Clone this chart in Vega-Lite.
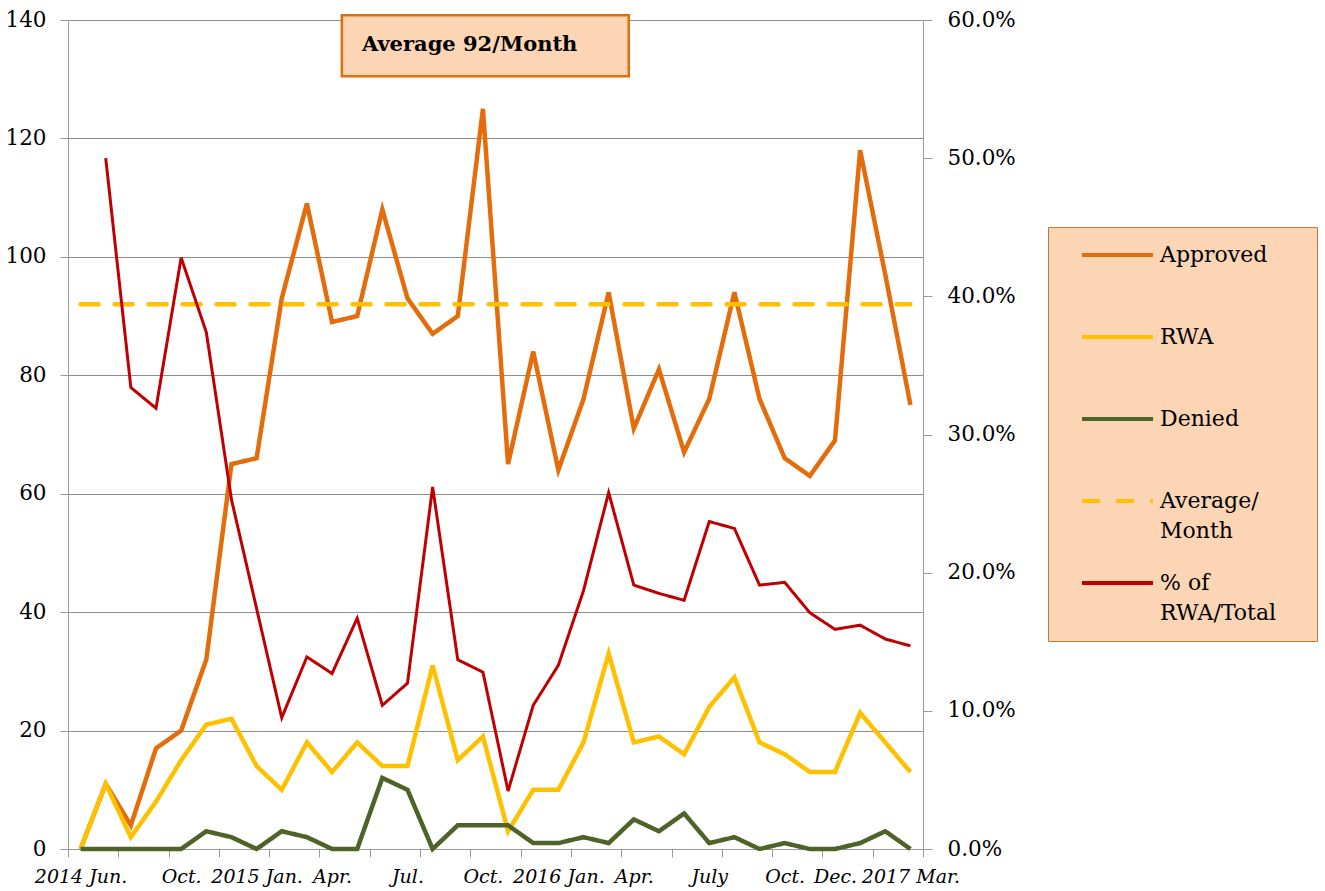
{
  "$schema": "https://vega.github.io/schema/vega-lite/v6.json",
  "width": 855,
  "height": 829,
  "autosize": {"type": "none"},
  "padding": {"left": 68, "top": 20, "right": 402, "bottom": 42},
  "background": "white",
  "config": {
    "view": {"stroke": null},
    "font": "DejaVu Serif",
    "legend": {
      "orient": "none",
      "legendX": 980,
      "legendY": 207,
      "fillColor": "#FCD5B5",
      "strokeColor": "#C8773A",
      "padding": 14,
      "symbolSize": 576,
      "symbolStrokeWidth": 4,
      "labelFont": "DejaVu Serif",
      "labelFontSize": 22,
      "labelColor": "#000000",
      "labelLimit": 400,
      "labelOffset": 70,
      "rowPadding": 24,
      "labelLineHeight": 30
    }
  },
  "datasets": {
    "monthly": [
      {"i": 0, "Approved": 0, "RWA": 0, "Denied": 0},
      {"i": 1, "Approved": 11, "RWA": 11, "Denied": 0, "% of RWA/Total": 0.5},
      {"i": 2, "Approved": 4, "RWA": 2, "Denied": 0, "% of RWA/Total": 0.334},
      {"i": 3, "Approved": 17, "RWA": 8, "Denied": 0, "% of RWA/Total": 0.319},
      {"i": 4, "Approved": 20, "RWA": 15, "Denied": 0, "% of RWA/Total": 0.428},
      {"i": 5, "Approved": 32, "RWA": 21, "Denied": 3, "% of RWA/Total": 0.374},
      {"i": 6, "Approved": 65, "RWA": 22, "Denied": 2, "% of RWA/Total": 0.253},
      {"i": 7, "Approved": 66, "RWA": 14, "Denied": 0, "% of RWA/Total": 0.174},
      {"i": 8, "Approved": 93, "RWA": 10, "Denied": 3, "% of RWA/Total": 0.095},
      {"i": 9, "Approved": 109, "RWA": 18, "Denied": 2, "% of RWA/Total": 0.139},
      {"i": 10, "Approved": 89, "RWA": 13, "Denied": 0, "% of RWA/Total": 0.127},
      {"i": 11, "Approved": 90, "RWA": 18, "Denied": 0, "% of RWA/Total": 0.167},
      {"i": 12, "Approved": 108, "RWA": 14, "Denied": 12, "% of RWA/Total": 0.104},
      {"i": 13, "Approved": 93, "RWA": 14, "Denied": 10, "% of RWA/Total": 0.12},
      {"i": 14, "Approved": 87, "RWA": 31, "Denied": 0, "% of RWA/Total": 0.262},
      {"i": 15, "Approved": 90, "RWA": 15, "Denied": 4, "% of RWA/Total": 0.137},
      {"i": 16, "Approved": 125, "RWA": 19, "Denied": 4, "% of RWA/Total": 0.128},
      {"i": 17, "Approved": 65, "RWA": 3, "Denied": 4, "% of RWA/Total": 0.042},
      {"i": 18, "Approved": 84, "RWA": 10, "Denied": 1, "% of RWA/Total": 0.104},
      {"i": 19, "Approved": 64, "RWA": 10, "Denied": 1, "% of RWA/Total": 0.133},
      {"i": 20, "Approved": 76, "RWA": 18, "Denied": 2, "% of RWA/Total": 0.187},
      {"i": 21, "Approved": 94, "RWA": 33, "Denied": 1, "% of RWA/Total": 0.258},
      {"i": 22, "Approved": 71, "RWA": 18, "Denied": 5, "% of RWA/Total": 0.191},
      {"i": 23, "Approved": 81, "RWA": 19, "Denied": 3, "% of RWA/Total": 0.185},
      {"i": 24, "Approved": 67, "RWA": 16, "Denied": 6, "% of RWA/Total": 0.18},
      {"i": 25, "Approved": 76, "RWA": 24, "Denied": 1, "% of RWA/Total": 0.237},
      {"i": 26, "Approved": 94, "RWA": 29, "Denied": 2, "% of RWA/Total": 0.232},
      {"i": 27, "Approved": 76, "RWA": 18, "Denied": 0, "% of RWA/Total": 0.191},
      {"i": 28, "Approved": 66, "RWA": 16, "Denied": 1, "% of RWA/Total": 0.193},
      {"i": 29, "Approved": 63, "RWA": 13, "Denied": 0, "% of RWA/Total": 0.171},
      {"i": 30, "Approved": 69, "RWA": 13, "Denied": 0, "% of RWA/Total": 0.159},
      {"i": 31, "Approved": 118, "RWA": 23, "Denied": 1, "% of RWA/Total": 0.162},
      {"i": 32, "Approved": 97, "RWA": 18, "Denied": 3, "% of RWA/Total": 0.152},
      {"i": 33, "Approved": 75, "RWA": 13, "Denied": 0, "% of RWA/Total": 0.147}
    ]
  },
  "layer": [
    {
      "layer": [
        {
          "data": {"name": "monthly"},
          "transform": [{"fold": ["Approved", "RWA", "Denied"], "as": ["series", "value"]}],
          "mark": {"type": "line", "strokeWidth": 4.5},
          "encoding": {
            "x": {
              "field": "i",
              "type": "quantitative",
              "scale": {"domain": [-0.5, 33.5], "nice": false, "zero": false},
              "axis": {
                "orient": "bottom",
                "title": null,
                "values": [-0.5,0.5,1.5,2.5,3.5,4.5,5.5,6.5,7.5,8.5,9.5,10.5,11.5,12.5,13.5,14.5,15.5,16.5,17.5,18.5,19.5,20.5,21.5,22.5,23.5,24.5,25.5,26.5,27.5,28.5,29.5,30.5,31.5,32.5,33.5],
                "labels": false,
                "tickSize": 8,
                "tickColor": "#9a9a9a",
                "domainColor": "#9a9a9a",
                "grid": false
              }
            },
            "y": {
              "field": "value",
              "type": "quantitative",
              "scale": {"domain": [0, 140], "nice": false},
              "axis": {
                "title": null,
                "values": [0, 20, 40, 60, 80, 100, 120, 140],
                "grid": true,
                "gridColor": "#8c8c8c",
                "gridWidth": 1.2,
                "tickSize": 8,
                "tickColor": "#9a9a9a",
                "domainColor": "#9a9a9a",
                "labelFont": "DejaVu Serif",
                "labelFontSize": 21.5,
                "labelColor": "#000000",
                "labelPadding": 14
              }
            },
            "color": {
              "field": "series",
              "type": "nominal",
              "title": null,
              "scale": {
                "domain": ["Approved", "RWA", "Denied", "Average/Month", "% of RWA/Total"],
                "range": ["#E46C0A", "#FFC000", "#4F6228", "#FFC000", "#C00000"]
              },
              "legend": {
                "symbolType": "M0.5,0H6.42M18.25,2.92",
                "labelExpr": "datum.label=='Average/Month'?['Average/','Month']:datum.label=='% of RWA/Total'?['% of','RWA/Total']:datum.label",
                "encode": {"labels": {"update": {"lineHeight": {"value": 30}}}}
              }
            },
            "strokeDash": {
              "field": "series",
              "type": "nominal",
              "title": null,
              "scale": {
                "domain": ["Approved", "RWA", "Denied", "Average/Month", "% of RWA/Total"],
                "range": [[1, 0], [1, 0], [1, 0], [18, 16], [1, 0]]
              },
              "legend": {
                "symbolType": "M0.5,0H6.42M18.25,2.92",
                "labelExpr": "datum.label=='Average/Month'?['Average/','Month']:datum.label=='% of RWA/Total'?['% of','RWA/Total']:datum.label",
                "encode": {"labels": {"update": {"lineHeight": {"value": 30}}}}
              }
            }
          }
        },
        {
          "data": {"values": [{"series": "Average/Month", "value": 92}]},
          "mark": {"type": "rule", "strokeWidth": 4.5, "strokeCap": "round"},
          "encoding": {
            "x": {"datum": 0, "type": "quantitative"},
            "x2": {"datum": 33},
            "y": {"field": "value", "type": "quantitative"},
            "color": {"field": "series", "type": "nominal", "title": null},
            "strokeDash": {"field": "series", "type": "nominal", "title": null}
          }
        },
        {
          "data": {"values": [{}]},
          "mark": {"type": "rect", "fill": "#FCD5B5", "stroke": "#E46C0A", "strokeWidth": 2.5},
          "encoding": {
            "x": {"datum": 10.39, "type": "quantitative"},
            "x2": {"datum": 21.8},
            "y": {"datum": 130.5, "type": "quantitative"},
            "y2": {"datum": 140.8}
          }
        },
        {
          "data": {"values": [{}]},
          "mark": {"type": "text", "text": "Average 92/Month", "font": "DejaVu Serif", "fontWeight": "bold", "fontSize": 21, "align": "left", "baseline": "middle", "color": "#000000"},
          "encoding": {
            "x": {"datum": 11.19, "type": "quantitative"},
            "y": {"datum": 135.8, "type": "quantitative"}
          }
        }
      ]
    },
    {
      "data": {"name": "monthly"},
      "transform": [{"fold": ["% of RWA/Total"], "as": ["series", "value"]}, {"filter": "isValid(datum.value)"}],
      "mark": {"type": "line", "strokeWidth": 3},
      "encoding": {
        "x": {
          "field": "i",
          "type": "quantitative",
          "axis": {
            "orient": "bottom",
            "title": null,
            "values": [0, 4, 7, 10, 13, 16, 19, 22, 25, 28, 30, 33],
            "labelExpr": "datum.value==0?'2014 Jun.':datum.value==4?'Oct.':datum.value==7?'2015 Jan.':datum.value==10?'Apr.':datum.value==13?'Jul.':datum.value==16?'Oct.':datum.value==19?'2016 Jan.':datum.value==22?'Apr.':datum.value==25?'July':datum.value==28?'Oct.':datum.value==30?'Dec.':'2017 Mar.'",
            "labelFont": "DejaVu Serif",
            "labelFontStyle": "italic",
            "labelFontSize": 19,
            "labelColor": "#000000",
            "labelPadding": 18,
            "labelOverlap": false,
            "labelFlush": false,
            "labelBound": false,
            "ticks": false,
            "tickSize": 0,
            "domain": false,
            "grid": false
          }
        },
        "y": {
          "field": "value",
          "type": "quantitative",
          "scale": {"domain": [0, 0.6], "nice": false},
          "axis": {
            "orient": "right",
            "title": null,
            "values": [0, 0.1, 0.2, 0.3, 0.4, 0.5, 0.6],
            "format": ".1%",
            "grid": false,
            "tickSize": 9,
            "tickColor": "#9a9a9a",
            "domainColor": "#9a9a9a",
            "labelFont": "DejaVu Serif",
            "labelFontSize": 21.5,
            "labelColor": "#000000",
            "labelPadding": 15
          }
        },
        "color": {"field": "series", "type": "nominal", "title": null},
        "strokeDash": {"field": "series", "type": "nominal", "title": null}
      }
    }
  ],
  "resolve": {"scale": {"y": "independent"}, "axis": {"x": "independent"}}
}
